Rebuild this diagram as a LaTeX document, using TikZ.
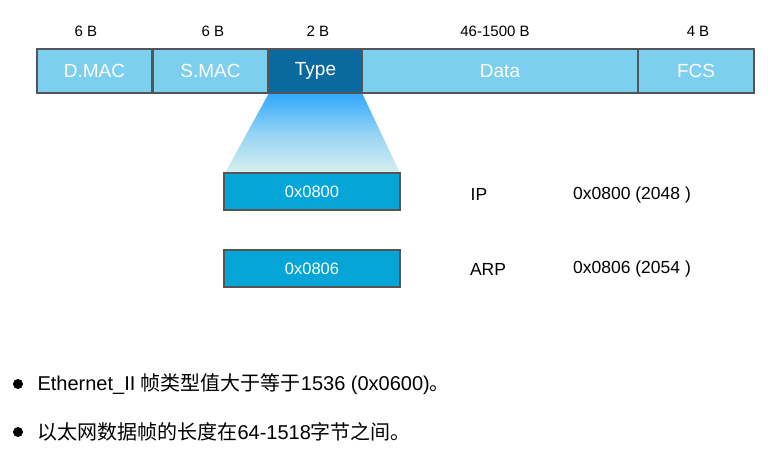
\documentclass[tikz,border=0pt]{standalone}
\usepackage{fontspec}
\setmainfont{Liberation Sans}
\newfontfamily\cjk{Noto Sans CJK SC}
\definecolor{lightb}{HTML}{7CCFEF}
\definecolor{typeb}{HTML}{0A6AA0}
\definecolor{valb}{HTML}{05A5D8}
\definecolor{edge}{HTML}{555555}
\definecolor{gtop}{HTML}{30A8FF}
\definecolor{gbot}{HTML}{D8EFEE}
\begin{document}
\begin{tikzpicture}[x=1pt,y=-1pt,
  field/.style={draw=edge,line width=1.3pt,fill=lightb,text=white,font=\fontsize{19}{22}\selectfont,inner sep=0pt},
  val/.style={draw=edge,line width=1.3pt,fill=valb,text=white,font=\fontsize{16.5}{19}\selectfont,inner sep=0pt},
  lab/.style={font=\fontsize{15}{17}\selectfont},
  txt/.style={font=\fontsize{17.5}{20}\selectfont},
  bul/.style={font=\fontsize{20}{23}\selectfont,anchor=west}]
\useasboundingbox (0,0) rectangle (768,453);
\shade[top color=gtop,bottom color=gbot,middle color=gbot!60!gtop] (269,93) -- (362,93) -- (400,173) -- (225,173) -- cycle;
\node[field,minimum width=115pt,minimum height=44pt] (dmac) at (94.5,71) {D.MAC};
\node[field,minimum width=115pt,minimum height=44pt] (smac) at (210.5,71) {S.MAC};
\node[field,fill=typeb,minimum width=93pt,minimum height=44pt] (type) at (315.5,71) {Type};
\node[field,minimum width=276pt,minimum height=44pt] (data) at (500,71) {Data};
\node[field,minimum width=116pt,minimum height=44pt] (fcs) at (696,71) {FCS};
\node[lab] (l1) at (86,31) {6 B};
\node[lab] (l2) at (213,31) {6 B};
\node[lab] (l3) at (318,31) {2 B};
\node[lab] (l4) at (495,31) {46-1500 B};
\node[lab] (l5) at (698,31) {4 B};
\node[val,minimum width=176pt,minimum height=37pt] (v1) at (312,191.5) {0x0800};
\node[val,minimum width=176pt,minimum height=37pt] (v2) at (312,268.5) {0x0806};
\node[txt] (ip) at (479,194) {IP};
\node[txt] (ipv) at (632,195) {0x0800 (2048 )};
\node[txt] (arp) at (488,269) {ARP};
\node[txt] (arpv) at (632,269) {0x0806 (2054 )};
\fill (18,384) circle (5pt);
\fill (18,432) circle (5pt);
\node[bul] (b1) at (34,384) {Ethernet\_II {\cjk 帧类型值大于等于}1536 (0x0600){\cjk 。}};
\node[bul] (b2) at (34,432) {{\cjk 以太网数据帧的长度在}64-1518{\cjk 字节之间。}};
\end{tikzpicture}
\end{document}
